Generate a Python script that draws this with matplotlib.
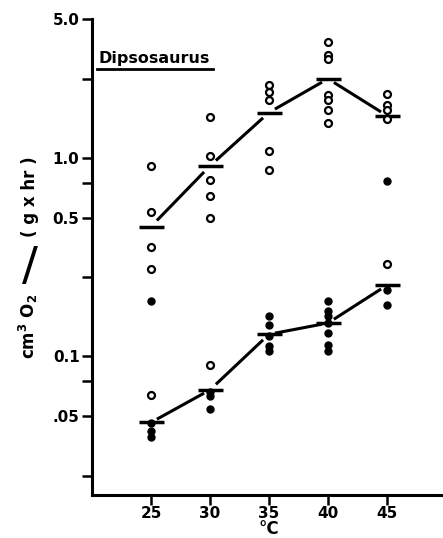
import matplotlib.pyplot as plt
import numpy as np

temps = [25, 30, 35, 40, 45]
upper_means = [0.45, 0.91, 1.69, 2.5, 1.63]
lower_means = [0.0464, 0.0677, 0.129, 0.147, 0.228]

# open circles
open_x = [25, 25, 25, 25,
          30, 30, 30, 30, 30,
          35, 35, 35, 35, 35,
          40, 40, 40, 40, 40, 40, 40,
          45, 45, 45, 45, 45,
          25, 30]
open_y = [0.91, 0.53, 0.355, 0.275,
          1.61, 1.02, 0.77, 0.64, 0.50,
          2.33, 2.15, 1.96, 1.08, 0.87,
          3.85, 3.3, 3.15, 2.08, 1.96, 1.73, 1.50,
          2.1, 1.85, 1.73, 1.56, 0.29,
          0.064, 0.090]

# filled dots
filled_x = [25, 45,
            25, 25, 25,
            30, 30, 30,
            35, 35, 35, 35, 35,
            40, 40, 40, 40, 40, 40, 40,
            45, 45]
filled_y = [0.19, 0.76,
            0.046, 0.042, 0.039,
            0.066, 0.063, 0.054,
            0.159, 0.144, 0.126, 0.112, 0.106,
            0.19, 0.17, 0.16, 0.147, 0.131, 0.114, 0.106,
            0.215, 0.181]

major_ticks = [0.05, 0.1, 0.5, 1.0, 5.0]
major_labels = ['.05', '0.1', '0.5', '1.0', '5.0']
minor_ticks = [0.025, 0.075, 0.25, 0.75, 2.5]

plt.rcParams['font.family'] = 'DejaVu Sans'
plt.rcParams['font.weight'] = 'bold'

fig = plt.figure(figsize=(4.43, 5.38), dpi=100)
ax = fig.add_axes([92 / 443, 1 - 495 / 538, 351 / 443, 476 / 538])
ax.set_yscale('log')
ax.set_ylim(0.02, 5.0)
ax.set_xlim(20, 49.75)


def gapped_lines(xs, ys):
    # join the means, leaving a small gap at each bar
    for i in range(len(xs) - 1):
        t = np.array([0.1, 0.9])
        x = xs[i] + t * (xs[i + 1] - xs[i])
        ly = np.log10(ys[i]) + t * (np.log10(ys[i + 1]) - np.log10(ys[i]))
        ax.plot(x, 10 ** ly, color='black', lw=2.2, solid_capstyle='butt')


for means in (upper_means, lower_means):
    gapped_lines(temps, means)
    ax.plot(temps, means, ls='none', marker='_', ms=18, mew=2.5, color='black')

ax.plot(open_x, open_y, ls='none', marker='o', ms=5, mfc='white',
        mec='black', mew=1.6)
ax.plot(filled_x, filled_y, ls='none', marker='o', ms=5, color='black')

ax.spines['top'].set_visible(False)
ax.spines['right'].set_visible(False)
ax.spines['left'].set_linewidth(2.2)
ax.spines['bottom'].set_linewidth(2.2)

ax.set_xticks(temps)
ax.set_xticklabels([str(t) for t in temps], fontsize=11, fontweight='bold')
ax.set_yticks(major_ticks)
ax.set_yticklabels(major_labels, fontsize=11, fontweight='bold')
ax.set_yticks(minor_ticks, minor=True)
ax.yaxis.set_minor_formatter(plt.NullFormatter())
ax.tick_params(axis='both', which='both', direction='out', length=7, width=1.8, pad=2)
ax.tick_params(axis='x', pad=1)

fig.text(269 / 443, 1 - 529 / 538, '°C', ha='center', va='center',
         fontsize=12, fontweight='bold')

fig.text(30 / 443, 1 - 197 / 538, '( g x hr )', rotation=90, ha='center',
         va='center', fontsize=12, fontweight='bold')
fig.text(30 / 443, 1 - 268 / 538, '/', ha='center', va='center',
         fontsize=34, fontweight='normal')
fig.text(28 / 443, 1 - 326 / 538, r'cm$^{\mathbf{3}}$ O$_{\mathbf{2}}$', rotation=90,
         ha='center', va='center', fontsize=12, fontweight='bold')

fig.text(99 / 443, 1 - 59 / 538, 'Dipsosaurus', ha='left', va='center',
         fontsize=11.5, fontweight='bold')
fig.add_artist(plt.Line2D([97 / 443, 213 / 443], [1 - 69 / 538, 1 - 69 / 538],
                          color='black', lw=2, transform=fig.transFigure))

fig.savefig('out.png', dpi=100)
